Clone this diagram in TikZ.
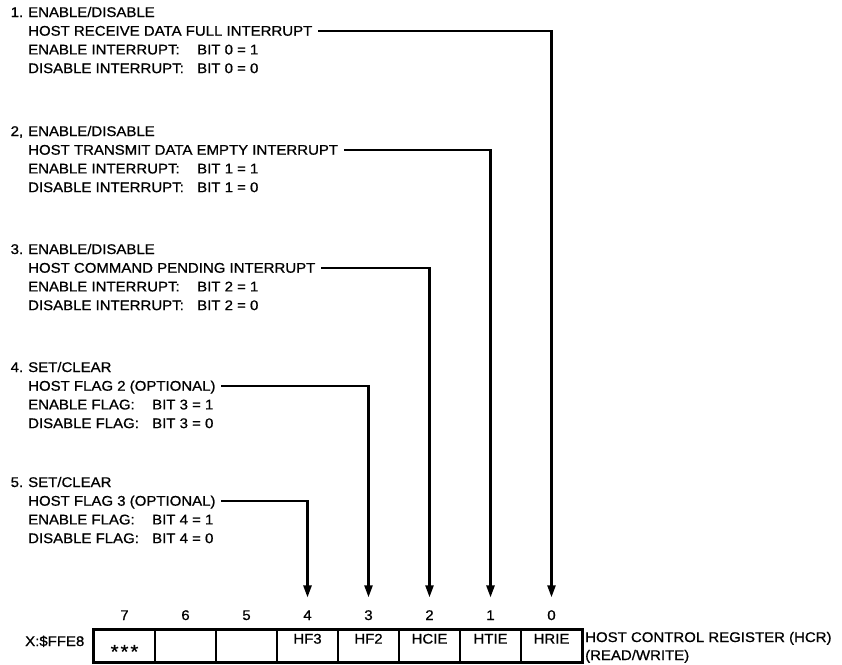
\documentclass[tikz,border=0pt]{standalone}
\usepackage{fontspec}
\setmainfont{Liberation Sans}[FakeStretch=1.07,FakeBold=0.8]
\usetikzlibrary{arrows.meta}
\newcommand\padto[2]{\makebox[#1][l]{#2}}
\begin{document}
\begin{tikzpicture}[x=1pt,y=-1pt,
  font=\fontsize{14}{16}\selectfont,
  txt/.style={anchor=base west, inner sep=0pt},
  head/.style={anchor=base west, inner ysep=0pt, inner xsep=5.5pt, text height=9.4pt, text depth=0pt},
  conn/.style={line width=2.4pt, line join=miter, -{Triangle[length=12pt,width=8pt]}},
  cell/.style={draw, line width=1.4pt, minimum width=61pt, minimum height=32pt, inner sep=0pt, text height=10pt, text depth=14.8pt},
  digit/.style={anchor=base, inner xsep=0pt, inner ysep=12.7pt}]
\useasboundingbox (0,0) rectangle (842,664);

% group 1
\node[txt] (n1) at (10.5,17) {1.};
\node[txt] (t1) at (28,17) {ENABLE/DISABLE};
\node[head] (h1) at (22.5,35.7) {HOST RECEIVE DATA FULL INTERRUPT};
\node[txt] (e1) at (28,54.4) {\padto{169pt}{ENABLE INTERRUPT:}BIT 0 = 1};
\node[txt] (d1) at (28,73.1) {\padto{169pt}{DISABLE INTERRUPT:}BIT 0 = 0};
% group 2
\node[txt] (n2) at (10.5,136) {2,};
\node[txt] (t2) at (28,136) {ENABLE/DISABLE};
\node[head] (h2) at (22.5,154.7) {HOST TRANSMIT DATA EMPTY INTERRUPT};
\node[txt] (e2) at (28,173.4) {\padto{169pt}{ENABLE INTERRUPT:}BIT 1 = 1};
\node[txt] (d2) at (28,192.1) {\padto{169pt}{DISABLE INTERRUPT:}BIT 1 = 0};
% group 3
\node[txt] (n3) at (10.5,254) {3.};
\node[txt] (t3) at (28,254) {ENABLE/DISABLE};
\node[head] (h3) at (22.5,272.7) {HOST COMMAND PENDING INTERRUPT};
\node[txt] (e3) at (28,291.4) {\padto{169pt}{ENABLE INTERRUPT:}BIT 2 = 1};
\node[txt] (d3) at (28,310.1) {\padto{169pt}{DISABLE INTERRUPT:}BIT 2 = 0};
% group 4
\node[txt] (n4) at (10.5,372) {4.};
\node[txt] (t4) at (28,372) {SET/CLEAR};
\node[head] (h4) at (22.5,390.7) {HOST FLAG 2 (OPTIONAL)};
\node[txt] (e4) at (28,409.4) {\padto{124pt}{ENABLE FLAG:}BIT 3 = 1};
\node[txt] (d4) at (28,428.1) {\padto{124pt}{DISABLE FLAG:}BIT 3 = 0};
% group 5
\node[txt] (n5) at (10.5,487) {5.};
\node[txt] (t5) at (28,487) {SET/CLEAR};
\node[head] (h5) at (22.5,505.7) {HOST FLAG 3 (OPTIONAL)};
\node[txt] (e5) at (28,524.4) {\padto{124pt}{ENABLE FLAG:}BIT 4 = 1};
\node[txt] (d5) at (28,543.1) {\padto{124pt}{DISABLE FLAG:}BIT 4 = 0};

% register
\node[txt] (addr) at (25,646) {X:\$FFE8};
\node[cell] (c7) at (124.5,646) {\raisebox{-14.5pt}[0pt][0pt]{\fontsize{19}{19}\selectfont *\kern2pt*\kern2pt*}};
\foreach \i/\t in {6/,5/,4/HF3,3/HF2,2/HCIE,1/HTIE,0/HRIE}
  \node[cell] (c\i) at ({94+61*(7-\i)+30.5},646) {\t};
\draw[line width=2.2pt] (c7.north west) rectangle (c0.south east);
\foreach \i in {7,...,0}
  \node[digit] (b\i) at ({94+61*(7-\i)+30.5},620) {\i};
\node[txt] (r1) at (585,642) {HOST CONTROL REGISTER (HCR)};
\node[txt] (r2) at (585,660) {(READ/WRITE)};

% connectors
\draw[conn] (h1.east) -| (b0.north);
\draw[conn] (h2.east) -| (b1.north);
\draw[conn] (h3.east) -| (b2.north);
\draw[conn] (h4.east) -| (b3.north);
\draw[conn] (h5.east) -| (b4.north);
\end{tikzpicture}
\end{document}
